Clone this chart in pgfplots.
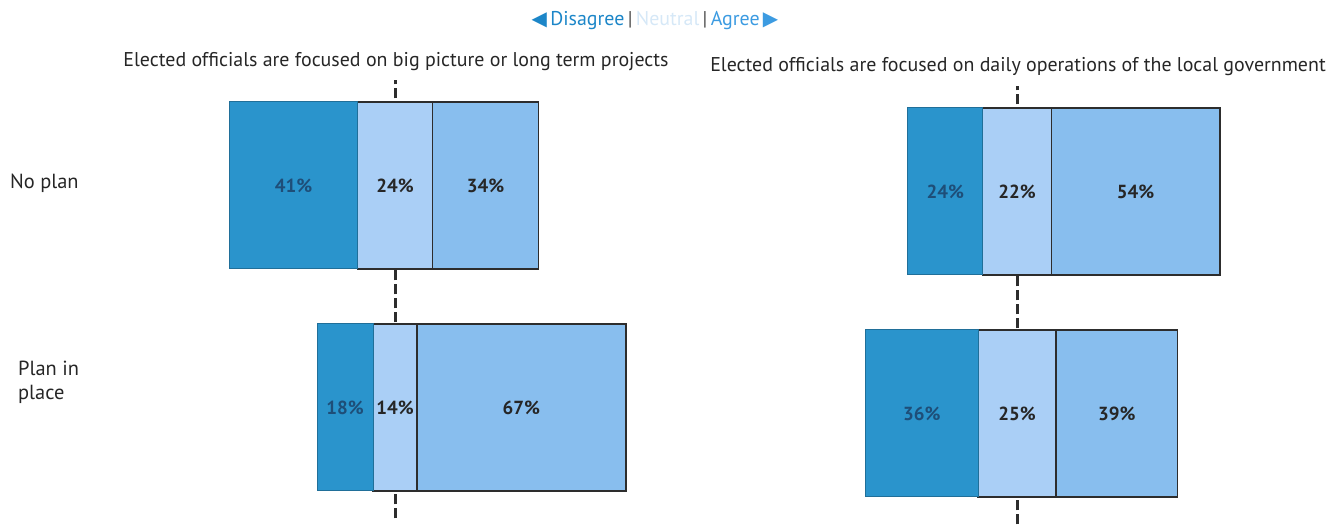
\documentclass[border=0pt]{standalone}
\usepackage{fontspec}
\setmainfont{PT Sans}
\newfontfamily\dejavu{DejaVu Sans}
\usepackage{pgfplots}
\usepackage{pgfplotstable}
\pgfplotsset{compat=1.18}
\definecolor{cD}{RGB}{42,148,204}
\definecolor{cN}{RGB}{170,207,246}
\definecolor{cA}{RGB}{136,190,238}
\definecolor{cDt}{RGB}{30,78,120}
\definecolor{legD}{RGB}{28,134,200}
\definecolor{legN}{RGB}{214,232,247}
\definecolor{legA}{RGB}{60,155,225}
\definecolor{edge}{RGB}{45,45,45}

% y: 1 = No plan, 0 = Plan in place ; D = disagree, N = neutral, A = agree (%)
\pgfplotstableread{
y D N A
1 41 24 34
0 18 14 67
}\leftdata
\pgfplotstableread{
y D N A
1 24 22 54
0 36 25 39
}\rightdata

\pgfplotsset{
  panel/.style={
    anchor=south west, scale only axis,
    width=436.8bp, height=444bp,
    xmin=-60, xmax=80, ymin=-0.5, ymax=1.5,
    hide axis, clip=false,
    /pgf/number format/assume math mode=true,
  },
  barpanel/.style={panel, xbar stacked, stack negative=on previous, bar width=167bp},
  lab/.style={draw=none, mark=none, point meta=explicit,
    nodes near coords={\pgfmathprintnumber{\pgfplotspointmeta}\%},
    nodes near coords align=center,
    every node near coord/.append style={font=\fontsize{19}{22}\selectfont\bfseries, text=#1}},
  centerline/.style={line width=3bp, edge, dash pattern=on 10bp off 4bp},
}

\begin{document}
\begin{tikzpicture}[x=1bp,y=1bp]
\path[use as bounding box] (0,0) rectangle (1343,525);

% legend
\node[anchor=base, font=\fontsize{20}{24}\selectfont, inner sep=0pt] at (655,499)
 {\textcolor{legD}{{\dejavu\fontsize{20}{22}\selectfont ◀}\,Disagree}\,\textcolor{black!70}{|}\,\textcolor{legN}{Neutral}\,\textcolor{black!70}{|}\,\textcolor{legA}{Agree\,{\dejavu\fontsize{20}{22}\selectfont ▶}}};

% titles
\node[anchor=base, font=\fontsize{20}{24}\selectfont, text=black!85] at (396,458) {Elected officials are focused on big picture or long term projects};
\node[anchor=base, font=\fontsize{20}{24}\selectfont, text=black!85] at (1018,453) {Elected officials are focused on daily operations of the local government};

% row labels
\node[anchor=base west, font=\fontsize{20.5}{25}\selectfont, text=black!85, inner sep=0pt] at (10,336) {No plan};
\node[anchor=base west, font=\fontsize{20.5}{25}\selectfont, text=black!85, align=left, inner sep=0pt] at (18,125) {Plan in\\place};

% ---------- left panel ----------
\begin{axis}[panel, at={(207.8bp,6.5bp)}]
\addplot[centerline] coordinates {(0,-0.5) (0,1.475)};
\end{axis}
\begin{axis}[barpanel, at={(207.8bp,6.5bp)}]
\addplot[draw=none, fill=none] table[x expr=-\thisrow{D}-\thisrow{N}/2, y=y]{\leftdata};
\addplot[fill=cD, draw=cD!75!black, line width=1bp] table[x=D, y=y]{\leftdata};
\addplot[fill=cN, draw=edge, line width=1.5bp] table[x=N, y=y]{\leftdata};
\addplot[fill=cA, draw=edge, line width=1.5bp] table[x=A, y=y]{\leftdata};
\end{axis}
\begin{axis}[panel, at={(207.8bp,6.5bp)}]
\addplot[lab=cDt] table[x expr=-\thisrow{N}/2-\thisrow{D}/2, y=y, meta=D]{\leftdata};
\addplot[lab=black!85] table[x expr=0, y=y, meta=N]{\leftdata};
\addplot[lab=black!85] table[x expr=\thisrow{N}/2+\thisrow{A}/2, y=y, meta=A]{\leftdata};
\end{axis}

% ---------- right panel ----------
\begin{axis}[panel, at={(829.8bp,0.5bp)}]
\addplot[centerline] coordinates {(0,-0.5) (0,1.475)};
\end{axis}
\begin{axis}[barpanel, at={(829.8bp,0.5bp)}]
\addplot[draw=none, fill=none] table[x expr=-\thisrow{D}-\thisrow{N}/2, y=y]{\rightdata};
\addplot[fill=cD, draw=cD!75!black, line width=1bp] table[x=D, y=y]{\rightdata};
\addplot[fill=cN, draw=edge, line width=1.5bp] table[x=N, y=y]{\rightdata};
\addplot[fill=cA, draw=edge, line width=1.5bp] table[x=A, y=y]{\rightdata};
\end{axis}
\begin{axis}[panel, at={(829.8bp,0.5bp)}]
\addplot[lab=cDt] table[x expr=-\thisrow{N}/2-\thisrow{D}/2, y=y, meta=D]{\rightdata};
\addplot[lab=black!85] table[x expr=0, y=y, meta=N]{\rightdata};
\addplot[lab=black!85] table[x expr=\thisrow{N}/2+\thisrow{A}/2, y=y, meta=A]{\rightdata};
\end{axis}
\end{tikzpicture}
\end{document}
